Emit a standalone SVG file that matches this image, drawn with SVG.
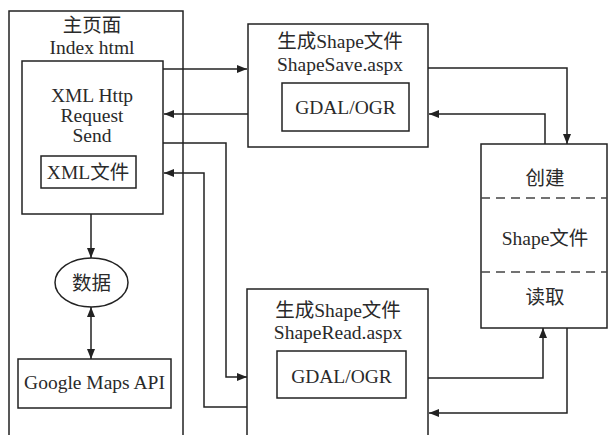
<svg xmlns="http://www.w3.org/2000/svg" width="608" height="435" viewBox="0 0 608 435">
<defs>
<style>
.b{fill:#fff;stroke:#222;stroke-width:1.5}
.l{fill:none;stroke:#222;stroke-width:1.5}
.d{fill:none;stroke:#444;stroke-width:1.5;stroke-dasharray:9,6}
text{font-family:"Liberation Serif","Noto Sans CJK SC",serif;font-size:19.5px;fill:#2a2a2a;text-anchor:middle}
</style>
<marker id="a" viewBox="0 0 10 8" refX="10" refY="4" markerWidth="10" markerHeight="8" markerUnits="userSpaceOnUse" orient="auto-start-reverse">
<path d="M0,0 L10,4 L0,8 z" fill="#222"/>
</marker>
</defs>
<rect width="608" height="435" fill="#fff"/>
<g id="main">
<rect class="b" x="9" y="11" width="174" height="430"/>
<text x="92" y="32">主页面</text>
<text x="92" y="54">Index html</text>
</g>
<g id="xhr">
<rect class="b" x="22" y="61" width="141" height="153"/>
<text x="92" y="102">XML Http</text>
<text x="92" y="122">Request</text>
<text x="92" y="142">Send</text>
</g>
<g id="xmlfile">
<rect class="b" x="41" y="156" width="95" height="32"/>
<text x="88" y="179">XML文件</text>
</g>
<g id="data">
<ellipse class="b" cx="91.5" cy="282.5" rx="36.5" ry="24.5"/>
<text x="91.5" y="290">数据</text>
</g>
<g id="gmaps">
<rect class="b" x="18" y="359" width="153" height="49"/>
<text x="94.5" y="389">Google Maps API</text>
</g>
<g id="shapesave">
<rect class="b" x="248" y="24" width="180" height="123"/>
<text x="340" y="48">生成Shape文件</text>
<text x="340" y="71">ShapeSave.aspx</text>
<rect class="b" x="282" y="83" width="127" height="48"/>
<text x="345.5" y="114">GDAL/OGR</text>
</g>
<g id="shaperead">
<rect class="b" x="247" y="289" width="181" height="160"/>
<text x="338" y="317">生成Shape文件</text>
<text x="338" y="339">ShapeRead.aspx</text>
<rect class="b" x="277" y="351" width="129" height="47"/>
<text x="341.5" y="383">GDAL/OGR</text>
</g>
<g id="shapefile">
<rect class="b" x="481" y="144" width="126" height="184"/>
<line class="d" x1="481" y1="198" x2="607" y2="198"/>
<line class="d" x1="481" y1="272" x2="607" y2="272"/>
<text x="545" y="185">创建</text>
<text x="545" y="245">Shape文件</text>
<text x="545" y="304">读取</text>
</g>
<g id="connectors">
<polyline class="l" points="163,69 247,69" marker-end="url(#a)"/>
<polyline class="l" points="248,114 164,114" marker-end="url(#a)"/>
<polyline class="l" points="163,143 226,143 226,377 247,377" marker-end="url(#a)"/>
<polyline class="l" points="247,407 204,407 204,173 164,173" marker-end="url(#a)"/>
<polyline class="l" points="91,214 91,258" marker-end="url(#a)"/>
<polyline class="l" points="91,307 91,359" marker-start="url(#a)" marker-end="url(#a)"/>
<polyline class="l" points="428,68 567,68 567,144" marker-end="url(#a)"/>
<polyline class="l" points="545,144 545,114 429,114" marker-end="url(#a)"/>
<polyline class="l" points="428,378 543,378 543,328" marker-end="url(#a)"/>
<polyline class="l" points="567,328 567,413 429,413" marker-end="url(#a)"/>
</g>
</svg>
